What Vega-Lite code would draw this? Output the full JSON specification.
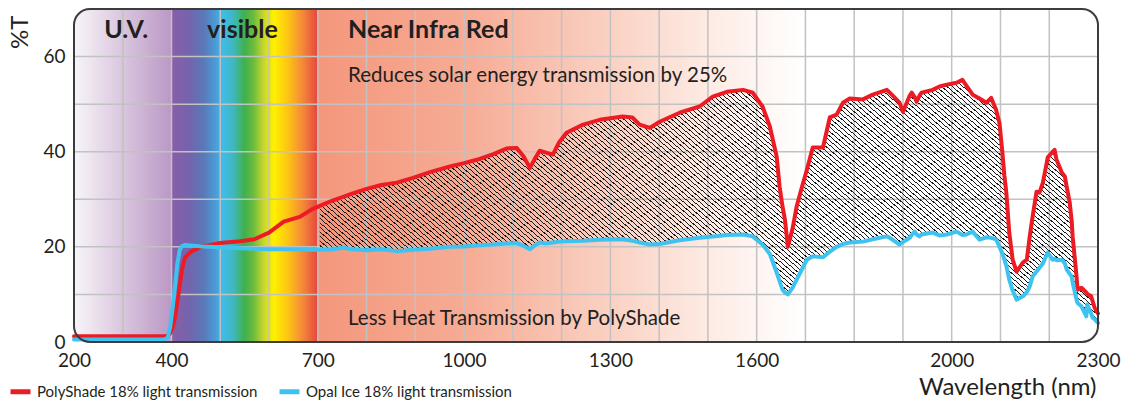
{
  "$schema": "https://vega.github.io/schema/vega-lite/v6.json",
  "width": 1024,
  "height": 333,
  "autosize": {"type": "none"},
  "padding": {"left": 74, "top": 9, "right": 37, "bottom": 60},
  "background": "white",
  "config": {"view": {"stroke": null}, "font": "Lato"},
  "datasets": {
    "spec": [
      {"wl": 200, "p": 1.2, "o": 0.5},
      {"wl": 300, "p": 1.2, "o": 0.5},
      {"wl": 385, "p": 1.2, "o": 0.5},
      {"wl": 392, "p": 1.3, "o": 0.9},
      {"wl": 397, "p": 1.8, "o": 3},
      {"wl": 402, "p": 3, "o": 7},
      {"wl": 407, "p": 5, "o": 11.5},
      {"wl": 412, "p": 8.5, "o": 16.5},
      {"wl": 417, "p": 12, "o": 19.4},
      {"wl": 422, "p": 15.5, "o": 20.2},
      {"wl": 428, "p": 17.8, "o": 20.4},
      {"wl": 440, "p": 19, "o": 20.3},
      {"wl": 460, "p": 20, "o": 20.1},
      {"wl": 500, "p": 20.8, "o": 19.9},
      {"wl": 540, "p": 21.2, "o": 19.7},
      {"wl": 570, "p": 21.6, "o": 19.6},
      {"wl": 600, "p": 23, "o": 19.5},
      {"wl": 630, "p": 25.3, "o": 19.5},
      {"wl": 663, "p": 26.3, "o": 19.5},
      {"wl": 690, "p": 28, "o": 19.4},
      {"wl": 704, "p": 28.6, "o": 19.4},
      {"wl": 730, "p": 29.7, "o": 19.5},
      {"wl": 752, "p": 30.5, "o": 19.8},
      {"wl": 770, "p": 31.2, "o": 19.5},
      {"wl": 800, "p": 32.2, "o": 19.3},
      {"wl": 830, "p": 33, "o": 19.5},
      {"wl": 862, "p": 33.5, "o": 19.1},
      {"wl": 895, "p": 34.5, "o": 19.4},
      {"wl": 930, "p": 35.7, "o": 19.6},
      {"wl": 971, "p": 36.9, "o": 20},
      {"wl": 1000, "p": 37.6, "o": 20.1},
      {"wl": 1026, "p": 38.3, "o": 20.3},
      {"wl": 1060, "p": 39.5, "o": 20.5},
      {"wl": 1088, "p": 40.7, "o": 20.7},
      {"wl": 1108, "p": 40.8, "o": 20.8},
      {"wl": 1122, "p": 39, "o": 20.2},
      {"wl": 1135, "p": 36.6, "o": 19.5},
      {"wl": 1145, "p": 38.5, "o": 20.3},
      {"wl": 1155, "p": 40.2, "o": 20.9},
      {"wl": 1168, "p": 39.8, "o": 20.7},
      {"wl": 1182, "p": 39.4, "o": 20.9},
      {"wl": 1195, "p": 42, "o": 21.1},
      {"wl": 1210, "p": 44, "o": 21.2},
      {"wl": 1244, "p": 45.7, "o": 21.3},
      {"wl": 1278, "p": 46.7, "o": 21.5},
      {"wl": 1325, "p": 47.4, "o": 21.6},
      {"wl": 1345, "p": 47.2, "o": 21.3},
      {"wl": 1360, "p": 45.7, "o": 20.9},
      {"wl": 1381, "p": 45, "o": 20.5},
      {"wl": 1401, "p": 46.3, "o": 20.6},
      {"wl": 1442, "p": 48.2, "o": 21.4},
      {"wl": 1483, "p": 49.5, "o": 21.9},
      {"wl": 1510, "p": 51.6, "o": 22.2},
      {"wl": 1539, "p": 52.6, "o": 22.5},
      {"wl": 1572, "p": 53, "o": 22.6},
      {"wl": 1592, "p": 52.4, "o": 22.2},
      {"wl": 1612, "p": 49.5, "o": 20.5},
      {"wl": 1627, "p": 45.3, "o": 18.5},
      {"wl": 1641, "p": 39, "o": 14.6},
      {"wl": 1647, "p": 32.7, "o": 12.8},
      {"wl": 1653, "p": 28.5, "o": 11},
      {"wl": 1658, "p": 25.7, "o": 10.4},
      {"wl": 1664, "p": 20, "o": 10},
      {"wl": 1674, "p": 24, "o": 11.5},
      {"wl": 1682, "p": 28.5, "o": 13.1},
      {"wl": 1694, "p": 33, "o": 15.5},
      {"wl": 1703, "p": 36.2, "o": 17.3},
      {"wl": 1715, "p": 40.9, "o": 18},
      {"wl": 1736, "p": 40.9, "o": 17.8},
      {"wl": 1750, "p": 47.2, "o": 19},
      {"wl": 1764, "p": 47.8, "o": 20},
      {"wl": 1777, "p": 50.3, "o": 20.6},
      {"wl": 1791, "p": 51.2, "o": 20.9},
      {"wl": 1818, "p": 51, "o": 21.1},
      {"wl": 1838, "p": 52, "o": 21.6},
      {"wl": 1867, "p": 53, "o": 22.2},
      {"wl": 1873, "p": 52.4, "o": 21.9},
      {"wl": 1893, "p": 50.3, "o": 20.5},
      {"wl": 1900, "p": 48.4, "o": 21},
      {"wl": 1914, "p": 51.8, "o": 21.9},
      {"wl": 1918, "p": 52.4, "o": 22.5},
      {"wl": 1924, "p": 51.5, "o": 23.2},
      {"wl": 1928, "p": 50.5, "o": 22.6},
      {"wl": 1934, "p": 51.8, "o": 22.2},
      {"wl": 1938, "p": 52.4, "o": 22.6},
      {"wl": 1961, "p": 53, "o": 23},
      {"wl": 1975, "p": 53.7, "o": 22.4},
      {"wl": 1990, "p": 54.1, "o": 22.6},
      {"wl": 2010, "p": 54.5, "o": 23.2},
      {"wl": 2022, "p": 55.1, "o": 22.5},
      {"wl": 2030, "p": 53.9, "o": 22.6},
      {"wl": 2043, "p": 52, "o": 23.2},
      {"wl": 2057, "p": 51.2, "o": 21.5},
      {"wl": 2071, "p": 50.3, "o": 22},
      {"wl": 2081, "p": 51.3, "o": 21.9},
      {"wl": 2091, "p": 48.8, "o": 21.6},
      {"wl": 2098, "p": 46, "o": 20},
      {"wl": 2104, "p": 39.8, "o": 18.6},
      {"wl": 2108, "p": 35, "o": 17.3},
      {"wl": 2112, "p": 31.4, "o": 16},
      {"wl": 2118, "p": 23, "o": 13.1},
      {"wl": 2125, "p": 17.3, "o": 10.8},
      {"wl": 2133, "p": 14.8, "o": 8.9},
      {"wl": 2146, "p": 16.7, "o": 9.6},
      {"wl": 2154, "p": 17.3, "o": 10.5},
      {"wl": 2160, "p": 22.2, "o": 11.7},
      {"wl": 2166, "p": 26.4, "o": 13.8},
      {"wl": 2174, "p": 31.6, "o": 14.8},
      {"wl": 2180, "p": 31.4, "o": 15.6},
      {"wl": 2187, "p": 33.5, "o": 16.5},
      {"wl": 2197, "p": 38.8, "o": 18.8},
      {"wl": 2207, "p": 40, "o": 17.3},
      {"wl": 2211, "p": 40.4, "o": 17.5},
      {"wl": 2215, "p": 38.3, "o": 17.2},
      {"wl": 2226, "p": 35.6, "o": 17.3},
      {"wl": 2232, "p": 34.8, "o": 16.5},
      {"wl": 2236, "p": 32.5, "o": 15.2},
      {"wl": 2242, "p": 29.3, "o": 14.3},
      {"wl": 2246, "p": 25.5, "o": 13.8},
      {"wl": 2248, "p": 22.2, "o": 12.5},
      {"wl": 2256, "p": 13.8, "o": 8.9},
      {"wl": 2258, "p": 11, "o": 8.2},
      {"wl": 2266, "p": 11.4, "o": 7.5},
      {"wl": 2276, "p": 10.4, "o": 5.4},
      {"wl": 2278, "p": 10.1, "o": 7.9},
      {"wl": 2286, "p": 9.6, "o": 6},
      {"wl": 2289, "p": 8.6, "o": 5.1},
      {"wl": 2293, "p": 7.2, "o": 4.8},
      {"wl": 2300, "p": 6, "o": 4}
    ],
    "bands": [
      {"band": "uv", "start": 200, "end": 400},
      {"band": "vis", "start": 400, "end": 700},
      {"band": "nir", "start": 700, "end": 1700},
      {"band": "frame", "start": 200, "end": 2300}
    ],
    "gridx": [
      {"v": 300}, {"v": 400}, {"v": 500}, {"v": 600}, {"v": 700}, {"v": 800}, {"v": 900}, {"v": 1000},
      {"v": 1100}, {"v": 1200}, {"v": 1300}, {"v": 1400}, {"v": 1500}, {"v": 1600}, {"v": 1700},
      {"v": 1800}, {"v": 1900}, {"v": 2000}, {"v": 2100}, {"v": 2200}
    ],
    "gridy": [{"v": 10}, {"v": 20}, {"v": 30}, {"v": 40}, {"v": 50}, {"v": 60}],
    "labels": [
      {"kind": "head", "text": "U.V.", "wl": 262, "t": 63.9},
      {"kind": "head", "text": "visible", "wl": 473, "t": 63.9},
      {"kind": "head", "text": "Near Infra Red", "wl": 762, "t": 63.9},
      {"kind": "note", "text": "Reduces solar energy transmission by 25%", "wl": 762, "t": 54.6},
      {"kind": "note", "text": "Less Heat Transmission by PolyShade", "wl": 762, "t": 3.6}
    ]
  },
  "layer": [
    {
      "data": {"name": "bands"},
      "transform": [{"filter": "datum.band == 'uv'"}],
      "mark": {
        "type": "rect",
        "cornerRadiusTopLeft": 16,
        "cornerRadiusBottomLeft": 16,
        "fill": {"gradient": "linear", "x1": 0, "y1": 0, "x2": 1, "y2": 0,
          "stops": [{"offset": 0, "color": "#f8f5f9"}, {"offset": 0.5, "color": "#d9c6de"}, {"offset": 1, "color": "#bb98c5"}]}
      },
      "encoding": {
        "x": {"field": "start", "type": "quantitative", "scale": {"domain": [200, 2300], "nice": false, "zero": false}},
        "x2": {"field": "end"}
      }
    },
    {
      "data": {"name": "bands"},
      "transform": [{"filter": "datum.band == 'vis'"}],
      "mark": {
        "type": "rect",
        "fill": {"gradient": "linear", "x1": 0, "y1": 0, "x2": 1, "y2": 0,
          "stops": [
            {"offset": 0, "color": "#8a5ea7"},
            {"offset": 0.12, "color": "#7464ad"},
            {"offset": 0.22, "color": "#5a78b8"},
            {"offset": 0.3, "color": "#4a9cd6"},
            {"offset": 0.35, "color": "#3fbcea"},
            {"offset": 0.42, "color": "#3fb8c0"},
            {"offset": 0.5, "color": "#40b04e"},
            {"offset": 0.56, "color": "#6cbb3e"},
            {"offset": 0.63, "color": "#c8d62c"},
            {"offset": 0.7, "color": "#fff100"},
            {"offset": 0.8, "color": "#fcc214"},
            {"offset": 0.9, "color": "#f3873a"},
            {"offset": 1, "color": "#e5453e"}
          ]}
      },
      "encoding": {
        "x": {"field": "start", "type": "quantitative", "scale": {"domain": [200, 2300], "nice": false, "zero": false}},
        "x2": {"field": "end"}
      }
    },
    {
      "data": {"name": "bands"},
      "transform": [{"filter": "datum.band == 'nir'"}],
      "mark": {
        "type": "rect",
        "fill": {"gradient": "linear", "x1": 0, "y1": 0, "x2": 1, "y2": 0,
          "stops": [
            {"offset": 0, "color": "#f4977c"},
            {"offset": 0.3, "color": "#f6ab94"},
            {"offset": 0.6, "color": "#fad1c3"},
            {"offset": 0.8, "color": "#fdebe4"},
            {"offset": 1, "color": "#ffffff"}
          ]}
      },
      "encoding": {
        "x": {"field": "start", "type": "quantitative", "scale": {"domain": [200, 2300], "nice": false, "zero": false}},
        "x2": {"field": "end"}
      }
    },
    {
      "data": {"name": "gridx"},
      "mark": {"type": "rule", "color": "#c2c2c2", "strokeWidth": 1.5},
      "encoding": {
        "x": {"field": "v", "type": "quantitative", "scale": {"domain": [200, 2300], "nice": false, "zero": false}}
      }
    },
    {
      "data": {"name": "gridy"},
      "mark": {"type": "rule", "color": "#c2c2c2", "strokeWidth": 1.5},
      "encoding": {
        "y": {"field": "v", "type": "quantitative", "scale": {"domain": [0, 70], "nice": false, "zero": false}}
      }
    },
    {
      "data": {"name": "spec"},
      "transform": [{"filter": "datum.wl >= 700"}],
      "mark": {
        "type": "area",
        "fill": {"gradient": "linear", "x1": 0, "y1": 1, "x2": 1.2047, "y2": 0.5585, "stops": [
{"offset":0,"color":"#1a1a1a"},{"offset":0.0012,"color":"#1a1a1a"},{"offset":0.0012,"color":"#0000"},
{"offset":0.005,"color":"#0000"},{"offset":0.005,"color":"#1a1a1a"},{"offset":0.0062,"color":"#1a1a1a"},{"offset":0.0062,"color":"#0000"},
{"offset":0.01,"color":"#0000"},{"offset":0.01,"color":"#1a1a1a"},{"offset":0.0112,"color":"#1a1a1a"},{"offset":0.0112,"color":"#0000"},
{"offset":0.015,"color":"#0000"},{"offset":0.015,"color":"#1a1a1a"},{"offset":0.0162,"color":"#1a1a1a"},{"offset":0.0162,"color":"#0000"},
{"offset":0.02,"color":"#0000"},{"offset":0.02,"color":"#1a1a1a"},{"offset":0.0212,"color":"#1a1a1a"},{"offset":0.0212,"color":"#0000"},
{"offset":0.025,"color":"#0000"},{"offset":0.025,"color":"#1a1a1a"},{"offset":0.0262,"color":"#1a1a1a"},{"offset":0.0262,"color":"#0000"},
{"offset":0.03,"color":"#0000"},{"offset":0.03,"color":"#1a1a1a"},{"offset":0.0312,"color":"#1a1a1a"},{"offset":0.0312,"color":"#0000"},
{"offset":0.035,"color":"#0000"},{"offset":0.035,"color":"#1a1a1a"},{"offset":0.0362,"color":"#1a1a1a"},{"offset":0.0362,"color":"#0000"},
{"offset":0.04,"color":"#0000"},{"offset":0.04,"color":"#1a1a1a"},{"offset":0.0412,"color":"#1a1a1a"},{"offset":0.0412,"color":"#0000"},
{"offset":0.045,"color":"#0000"},{"offset":0.045,"color":"#1a1a1a"},{"offset":0.0462,"color":"#1a1a1a"},{"offset":0.0462,"color":"#0000"},
{"offset":0.05,"color":"#0000"},{"offset":0.05,"color":"#1a1a1a"},{"offset":0.0512,"color":"#1a1a1a"},{"offset":0.0512,"color":"#0000"},
{"offset":0.055,"color":"#0000"},{"offset":0.055,"color":"#1a1a1a"},{"offset":0.0562,"color":"#1a1a1a"},{"offset":0.0562,"color":"#0000"},
{"offset":0.06,"color":"#0000"},{"offset":0.06,"color":"#1a1a1a"},{"offset":0.0612,"color":"#1a1a1a"},{"offset":0.0612,"color":"#0000"},
{"offset":0.065,"color":"#0000"},{"offset":0.065,"color":"#1a1a1a"},{"offset":0.0662,"color":"#1a1a1a"},{"offset":0.0662,"color":"#0000"},
{"offset":0.07,"color":"#0000"},{"offset":0.07,"color":"#1a1a1a"},{"offset":0.0712,"color":"#1a1a1a"},{"offset":0.0712,"color":"#0000"},
{"offset":0.075,"color":"#0000"},{"offset":0.075,"color":"#1a1a1a"},{"offset":0.0762,"color":"#1a1a1a"},{"offset":0.0762,"color":"#0000"},
{"offset":0.08,"color":"#0000"},{"offset":0.08,"color":"#1a1a1a"},{"offset":0.0812,"color":"#1a1a1a"},{"offset":0.0812,"color":"#0000"},
{"offset":0.085,"color":"#0000"},{"offset":0.085,"color":"#1a1a1a"},{"offset":0.0862,"color":"#1a1a1a"},{"offset":0.0862,"color":"#0000"},
{"offset":0.09,"color":"#0000"},{"offset":0.09,"color":"#1a1a1a"},{"offset":0.0912,"color":"#1a1a1a"},{"offset":0.0912,"color":"#0000"},
{"offset":0.095,"color":"#0000"},{"offset":0.095,"color":"#1a1a1a"},{"offset":0.0962,"color":"#1a1a1a"},{"offset":0.0962,"color":"#0000"},
{"offset":0.1,"color":"#0000"},{"offset":0.1,"color":"#1a1a1a"},{"offset":0.1012,"color":"#1a1a1a"},{"offset":0.1012,"color":"#0000"},
{"offset":0.105,"color":"#0000"},{"offset":0.105,"color":"#1a1a1a"},{"offset":0.1062,"color":"#1a1a1a"},{"offset":0.1062,"color":"#0000"},
{"offset":0.11,"color":"#0000"},{"offset":0.11,"color":"#1a1a1a"},{"offset":0.1112,"color":"#1a1a1a"},{"offset":0.1112,"color":"#0000"},
{"offset":0.115,"color":"#0000"},{"offset":0.115,"color":"#1a1a1a"},{"offset":0.1162,"color":"#1a1a1a"},{"offset":0.1162,"color":"#0000"},
{"offset":0.12,"color":"#0000"},{"offset":0.12,"color":"#1a1a1a"},{"offset":0.1212,"color":"#1a1a1a"},{"offset":0.1212,"color":"#0000"},
{"offset":0.125,"color":"#0000"},{"offset":0.125,"color":"#1a1a1a"},{"offset":0.1262,"color":"#1a1a1a"},{"offset":0.1262,"color":"#0000"},
{"offset":0.13,"color":"#0000"},{"offset":0.13,"color":"#1a1a1a"},{"offset":0.1312,"color":"#1a1a1a"},{"offset":0.1312,"color":"#0000"},
{"offset":0.135,"color":"#0000"},{"offset":0.135,"color":"#1a1a1a"},{"offset":0.1362,"color":"#1a1a1a"},{"offset":0.1362,"color":"#0000"},
{"offset":0.14,"color":"#0000"},{"offset":0.14,"color":"#1a1a1a"},{"offset":0.1412,"color":"#1a1a1a"},{"offset":0.1412,"color":"#0000"},
{"offset":0.145,"color":"#0000"},{"offset":0.145,"color":"#1a1a1a"},{"offset":0.1462,"color":"#1a1a1a"},{"offset":0.1462,"color":"#0000"},
{"offset":0.15,"color":"#0000"},{"offset":0.15,"color":"#1a1a1a"},{"offset":0.1512,"color":"#1a1a1a"},{"offset":0.1512,"color":"#0000"},
{"offset":0.155,"color":"#0000"},{"offset":0.155,"color":"#1a1a1a"},{"offset":0.1562,"color":"#1a1a1a"},{"offset":0.1562,"color":"#0000"},
{"offset":0.16,"color":"#0000"},{"offset":0.16,"color":"#1a1a1a"},{"offset":0.1612,"color":"#1a1a1a"},{"offset":0.1612,"color":"#0000"},
{"offset":0.165,"color":"#0000"},{"offset":0.165,"color":"#1a1a1a"},{"offset":0.1662,"color":"#1a1a1a"},{"offset":0.1662,"color":"#0000"},
{"offset":0.17,"color":"#0000"},{"offset":0.17,"color":"#1a1a1a"},{"offset":0.1712,"color":"#1a1a1a"},{"offset":0.1712,"color":"#0000"},
{"offset":0.175,"color":"#0000"},{"offset":0.175,"color":"#1a1a1a"},{"offset":0.1762,"color":"#1a1a1a"},{"offset":0.1762,"color":"#0000"},
{"offset":0.18,"color":"#0000"},{"offset":0.18,"color":"#1a1a1a"},{"offset":0.1812,"color":"#1a1a1a"},{"offset":0.1812,"color":"#0000"},
{"offset":0.185,"color":"#0000"},{"offset":0.185,"color":"#1a1a1a"},{"offset":0.1862,"color":"#1a1a1a"},{"offset":0.1862,"color":"#0000"},
{"offset":0.19,"color":"#0000"},{"offset":0.19,"color":"#1a1a1a"},{"offset":0.1912,"color":"#1a1a1a"},{"offset":0.1912,"color":"#0000"},
{"offset":0.195,"color":"#0000"},{"offset":0.195,"color":"#1a1a1a"},{"offset":0.1962,"color":"#1a1a1a"},{"offset":0.1962,"color":"#0000"},
{"offset":0.2,"color":"#0000"},{"offset":0.2,"color":"#1a1a1a"},{"offset":0.2012,"color":"#1a1a1a"},{"offset":0.2012,"color":"#0000"},
{"offset":0.205,"color":"#0000"},{"offset":0.205,"color":"#1a1a1a"},{"offset":0.2062,"color":"#1a1a1a"},{"offset":0.2062,"color":"#0000"},
{"offset":0.21,"color":"#0000"},{"offset":0.21,"color":"#1a1a1a"},{"offset":0.2112,"color":"#1a1a1a"},{"offset":0.2112,"color":"#0000"},
{"offset":0.215,"color":"#0000"},{"offset":0.215,"color":"#1a1a1a"},{"offset":0.2162,"color":"#1a1a1a"},{"offset":0.2162,"color":"#0000"},
{"offset":0.22,"color":"#0000"},{"offset":0.22,"color":"#1a1a1a"},{"offset":0.2212,"color":"#1a1a1a"},{"offset":0.2212,"color":"#0000"},
{"offset":0.225,"color":"#0000"},{"offset":0.225,"color":"#1a1a1a"},{"offset":0.2262,"color":"#1a1a1a"},{"offset":0.2262,"color":"#0000"},
{"offset":0.23,"color":"#0000"},{"offset":0.23,"color":"#1a1a1a"},{"offset":0.2312,"color":"#1a1a1a"},{"offset":0.2312,"color":"#0000"},
{"offset":0.235,"color":"#0000"},{"offset":0.235,"color":"#1a1a1a"},{"offset":0.2362,"color":"#1a1a1a"},{"offset":0.2362,"color":"#0000"},
{"offset":0.24,"color":"#0000"},{"offset":0.24,"color":"#1a1a1a"},{"offset":0.2412,"color":"#1a1a1a"},{"offset":0.2412,"color":"#0000"},
{"offset":0.245,"color":"#0000"},{"offset":0.245,"color":"#1a1a1a"},{"offset":0.2462,"color":"#1a1a1a"},{"offset":0.2462,"color":"#0000"},
{"offset":0.25,"color":"#0000"},{"offset":0.25,"color":"#1a1a1a"},{"offset":0.2512,"color":"#1a1a1a"},{"offset":0.2512,"color":"#0000"},
{"offset":0.255,"color":"#0000"},{"offset":0.255,"color":"#1a1a1a"},{"offset":0.2562,"color":"#1a1a1a"},{"offset":0.2562,"color":"#0000"},
{"offset":0.26,"color":"#0000"},{"offset":0.26,"color":"#1a1a1a"},{"offset":0.2612,"color":"#1a1a1a"},{"offset":0.2612,"color":"#0000"},
{"offset":0.265,"color":"#0000"},{"offset":0.265,"color":"#1a1a1a"},{"offset":0.2662,"color":"#1a1a1a"},{"offset":0.2662,"color":"#0000"},
{"offset":0.27,"color":"#0000"},{"offset":0.27,"color":"#1a1a1a"},{"offset":0.2712,"color":"#1a1a1a"},{"offset":0.2712,"color":"#0000"},
{"offset":0.275,"color":"#0000"},{"offset":0.275,"color":"#1a1a1a"},{"offset":0.2762,"color":"#1a1a1a"},{"offset":0.2762,"color":"#0000"},
{"offset":0.28,"color":"#0000"},{"offset":0.28,"color":"#1a1a1a"},{"offset":0.2812,"color":"#1a1a1a"},{"offset":0.2812,"color":"#0000"},
{"offset":0.285,"color":"#0000"},{"offset":0.285,"color":"#1a1a1a"},{"offset":0.2862,"color":"#1a1a1a"},{"offset":0.2862,"color":"#0000"},
{"offset":0.29,"color":"#0000"},{"offset":0.29,"color":"#1a1a1a"},{"offset":0.2912,"color":"#1a1a1a"},{"offset":0.2912,"color":"#0000"},
{"offset":0.295,"color":"#0000"},{"offset":0.295,"color":"#1a1a1a"},{"offset":0.2962,"color":"#1a1a1a"},{"offset":0.2962,"color":"#0000"},
{"offset":0.3,"color":"#0000"},{"offset":0.3,"color":"#1a1a1a"},{"offset":0.3012,"color":"#1a1a1a"},{"offset":0.3012,"color":"#0000"},
{"offset":0.305,"color":"#0000"},{"offset":0.305,"color":"#1a1a1a"},{"offset":0.3062,"color":"#1a1a1a"},{"offset":0.3062,"color":"#0000"},
{"offset":0.31,"color":"#0000"},{"offset":0.31,"color":"#1a1a1a"},{"offset":0.3112,"color":"#1a1a1a"},{"offset":0.3112,"color":"#0000"},
{"offset":0.315,"color":"#0000"},{"offset":0.315,"color":"#1a1a1a"},{"offset":0.3162,"color":"#1a1a1a"},{"offset":0.3162,"color":"#0000"},
{"offset":0.32,"color":"#0000"},{"offset":0.32,"color":"#1a1a1a"},{"offset":0.3212,"color":"#1a1a1a"},{"offset":0.3212,"color":"#0000"},
{"offset":0.325,"color":"#0000"},{"offset":0.325,"color":"#1a1a1a"},{"offset":0.3262,"color":"#1a1a1a"},{"offset":0.3262,"color":"#0000"},
{"offset":0.33,"color":"#0000"},{"offset":0.33,"color":"#1a1a1a"},{"offset":0.3312,"color":"#1a1a1a"},{"offset":0.3312,"color":"#0000"},
{"offset":0.335,"color":"#0000"},{"offset":0.335,"color":"#1a1a1a"},{"offset":0.3362,"color":"#1a1a1a"},{"offset":0.3362,"color":"#0000"},
{"offset":0.34,"color":"#0000"},{"offset":0.34,"color":"#1a1a1a"},{"offset":0.3412,"color":"#1a1a1a"},{"offset":0.3412,"color":"#0000"},
{"offset":0.345,"color":"#0000"},{"offset":0.345,"color":"#1a1a1a"},{"offset":0.3462,"color":"#1a1a1a"},{"offset":0.3462,"color":"#0000"},
{"offset":0.35,"color":"#0000"},{"offset":0.35,"color":"#1a1a1a"},{"offset":0.3512,"color":"#1a1a1a"},{"offset":0.3512,"color":"#0000"},
{"offset":0.355,"color":"#0000"},{"offset":0.355,"color":"#1a1a1a"},{"offset":0.3562,"color":"#1a1a1a"},{"offset":0.3562,"color":"#0000"},
{"offset":0.36,"color":"#0000"},{"offset":0.36,"color":"#1a1a1a"},{"offset":0.3612,"color":"#1a1a1a"},{"offset":0.3612,"color":"#0000"},
{"offset":0.365,"color":"#0000"},{"offset":0.365,"color":"#1a1a1a"},{"offset":0.3662,"color":"#1a1a1a"},{"offset":0.3662,"color":"#0000"},
{"offset":0.37,"color":"#0000"},{"offset":0.37,"color":"#1a1a1a"},{"offset":0.3712,"color":"#1a1a1a"},{"offset":0.3712,"color":"#0000"},
{"offset":0.375,"color":"#0000"},{"offset":0.375,"color":"#1a1a1a"},{"offset":0.3762,"color":"#1a1a1a"},{"offset":0.3762,"color":"#0000"},
{"offset":0.38,"color":"#0000"},{"offset":0.38,"color":"#1a1a1a"},{"offset":0.3812,"color":"#1a1a1a"},{"offset":0.3812,"color":"#0000"},
{"offset":0.385,"color":"#0000"},{"offset":0.385,"color":"#1a1a1a"},{"offset":0.3862,"color":"#1a1a1a"},{"offset":0.3862,"color":"#0000"},
{"offset":0.39,"color":"#0000"},{"offset":0.39,"color":"#1a1a1a"},{"offset":0.3912,"color":"#1a1a1a"},{"offset":0.3912,"color":"#0000"},
{"offset":0.395,"color":"#0000"},{"offset":0.395,"color":"#1a1a1a"},{"offset":0.3962,"color":"#1a1a1a"},{"offset":0.3962,"color":"#0000"},
{"offset":0.4,"color":"#0000"},{"offset":0.4,"color":"#1a1a1a"},{"offset":0.4012,"color":"#1a1a1a"},{"offset":0.4012,"color":"#0000"},
{"offset":0.405,"color":"#0000"},{"offset":0.405,"color":"#1a1a1a"},{"offset":0.4062,"color":"#1a1a1a"},{"offset":0.4062,"color":"#0000"},
{"offset":0.41,"color":"#0000"},{"offset":0.41,"color":"#1a1a1a"},{"offset":0.4112,"color":"#1a1a1a"},{"offset":0.4112,"color":"#0000"},
{"offset":0.415,"color":"#0000"},{"offset":0.415,"color":"#1a1a1a"},{"offset":0.4162,"color":"#1a1a1a"},{"offset":0.4162,"color":"#0000"},
{"offset":0.42,"color":"#0000"},{"offset":0.42,"color":"#1a1a1a"},{"offset":0.4212,"color":"#1a1a1a"},{"offset":0.4212,"color":"#0000"},
{"offset":0.425,"color":"#0000"},{"offset":0.425,"color":"#1a1a1a"},{"offset":0.4262,"color":"#1a1a1a"},{"offset":0.4262,"color":"#0000"},
{"offset":0.43,"color":"#0000"},{"offset":0.43,"color":"#1a1a1a"},{"offset":0.4312,"color":"#1a1a1a"},{"offset":0.4312,"color":"#0000"},
{"offset":0.435,"color":"#0000"},{"offset":0.435,"color":"#1a1a1a"},{"offset":0.4362,"color":"#1a1a1a"},{"offset":0.4362,"color":"#0000"},
{"offset":0.44,"color":"#0000"},{"offset":0.44,"color":"#1a1a1a"},{"offset":0.4412,"color":"#1a1a1a"},{"offset":0.4412,"color":"#0000"},
{"offset":0.445,"color":"#0000"},{"offset":0.445,"color":"#1a1a1a"},{"offset":0.4462,"color":"#1a1a1a"},{"offset":0.4462,"color":"#0000"},
{"offset":0.45,"color":"#0000"},{"offset":0.45,"color":"#1a1a1a"},{"offset":0.4512,"color":"#1a1a1a"},{"offset":0.4512,"color":"#0000"},
{"offset":0.455,"color":"#0000"},{"offset":0.455,"color":"#1a1a1a"},{"offset":0.4562,"color":"#1a1a1a"},{"offset":0.4562,"color":"#0000"},
{"offset":0.46,"color":"#0000"},{"offset":0.46,"color":"#1a1a1a"},{"offset":0.4612,"color":"#1a1a1a"},{"offset":0.4612,"color":"#0000"},
{"offset":0.465,"color":"#0000"},{"offset":0.465,"color":"#1a1a1a"},{"offset":0.4662,"color":"#1a1a1a"},{"offset":0.4662,"color":"#0000"},
{"offset":0.47,"color":"#0000"},{"offset":0.47,"color":"#1a1a1a"},{"offset":0.4712,"color":"#1a1a1a"},{"offset":0.4712,"color":"#0000"},
{"offset":0.475,"color":"#0000"},{"offset":0.475,"color":"#1a1a1a"},{"offset":0.4762,"color":"#1a1a1a"},{"offset":0.4762,"color":"#0000"},
{"offset":0.48,"color":"#0000"},{"offset":0.48,"color":"#1a1a1a"},{"offset":0.4812,"color":"#1a1a1a"},{"offset":0.4812,"color":"#0000"},
{"offset":0.485,"color":"#0000"},{"offset":0.485,"color":"#1a1a1a"},{"offset":0.4862,"color":"#1a1a1a"},{"offset":0.4862,"color":"#0000"},
{"offset":0.49,"color":"#0000"},{"offset":0.49,"color":"#1a1a1a"},{"offset":0.4912,"color":"#1a1a1a"},{"offset":0.4912,"color":"#0000"},
{"offset":0.495,"color":"#0000"},{"offset":0.495,"color":"#1a1a1a"},{"offset":0.4962,"color":"#1a1a1a"},{"offset":0.4962,"color":"#0000"},
{"offset":0.5,"color":"#0000"},{"offset":0.5,"color":"#1a1a1a"},{"offset":0.5012,"color":"#1a1a1a"},{"offset":0.5012,"color":"#0000"},
{"offset":0.505,"color":"#0000"},{"offset":0.505,"color":"#1a1a1a"},{"offset":0.5062,"color":"#1a1a1a"},{"offset":0.5062,"color":"#0000"},
{"offset":0.51,"color":"#0000"},{"offset":0.51,"color":"#1a1a1a"},{"offset":0.5112,"color":"#1a1a1a"},{"offset":0.5112,"color":"#0000"},
{"offset":0.515,"color":"#0000"},{"offset":0.515,"color":"#1a1a1a"},{"offset":0.5162,"color":"#1a1a1a"},{"offset":0.5162,"color":"#0000"},
{"offset":0.52,"color":"#0000"},{"offset":0.52,"color":"#1a1a1a"},{"offset":0.5212,"color":"#1a1a1a"},{"offset":0.5212,"color":"#0000"},
{"offset":0.525,"color":"#0000"},{"offset":0.525,"color":"#1a1a1a"},{"offset":0.5262,"color":"#1a1a1a"},{"offset":0.5262,"color":"#0000"},
{"offset":0.53,"color":"#0000"},{"offset":0.53,"color":"#1a1a1a"},{"offset":0.5312,"color":"#1a1a1a"},{"offset":0.5312,"color":"#0000"},
{"offset":0.535,"color":"#0000"},{"offset":0.535,"color":"#1a1a1a"},{"offset":0.5362,"color":"#1a1a1a"},{"offset":0.5362,"color":"#0000"},
{"offset":0.54,"color":"#0000"},{"offset":0.54,"color":"#1a1a1a"},{"offset":0.5412,"color":"#1a1a1a"},{"offset":0.5412,"color":"#0000"},
{"offset":0.545,"color":"#0000"},{"offset":0.545,"color":"#1a1a1a"},{"offset":0.5462,"color":"#1a1a1a"},{"offset":0.5462,"color":"#0000"},
{"offset":0.55,"color":"#0000"},{"offset":0.55,"color":"#1a1a1a"},{"offset":0.5512,"color":"#1a1a1a"},{"offset":0.5512,"color":"#0000"},
{"offset":0.555,"color":"#0000"},{"offset":0.555,"color":"#1a1a1a"},{"offset":0.5562,"color":"#1a1a1a"},{"offset":0.5562,"color":"#0000"},
{"offset":0.56,"color":"#0000"},{"offset":0.56,"color":"#1a1a1a"},{"offset":0.5612,"color":"#1a1a1a"},{"offset":0.5612,"color":"#0000"},
{"offset":0.565,"color":"#0000"},{"offset":0.565,"color":"#1a1a1a"},{"offset":0.5662,"color":"#1a1a1a"},{"offset":0.5662,"color":"#0000"},
{"offset":0.57,"color":"#0000"},{"offset":0.57,"color":"#1a1a1a"},{"offset":0.5712,"color":"#1a1a1a"},{"offset":0.5712,"color":"#0000"},
{"offset":0.575,"color":"#0000"},{"offset":0.575,"color":"#1a1a1a"},{"offset":0.5762,"color":"#1a1a1a"},{"offset":0.5762,"color":"#0000"},
{"offset":0.58,"color":"#0000"},{"offset":0.58,"color":"#1a1a1a"},{"offset":0.5812,"color":"#1a1a1a"},{"offset":0.5812,"color":"#0000"},
{"offset":0.585,"color":"#0000"},{"offset":0.585,"color":"#1a1a1a"},{"offset":0.5862,"color":"#1a1a1a"},{"offset":0.5862,"color":"#0000"},
{"offset":0.59,"color":"#0000"},{"offset":0.59,"color":"#1a1a1a"},{"offset":0.5912,"color":"#1a1a1a"},{"offset":0.5912,"color":"#0000"},
{"offset":0.595,"color":"#0000"},{"offset":0.595,"color":"#1a1a1a"},{"offset":0.5962,"color":"#1a1a1a"},{"offset":0.5962,"color":"#0000"},
{"offset":0.6,"color":"#0000"},{"offset":0.6,"color":"#1a1a1a"},{"offset":0.6012,"color":"#1a1a1a"},{"offset":0.6012,"color":"#0000"},
{"offset":0.605,"color":"#0000"},{"offset":0.605,"color":"#1a1a1a"},{"offset":0.6062,"color":"#1a1a1a"},{"offset":0.6062,"color":"#0000"},
{"offset":0.61,"color":"#0000"},{"offset":0.61,"color":"#1a1a1a"},{"offset":0.6112,"color":"#1a1a1a"},{"offset":0.6112,"color":"#0000"},
{"offset":0.615,"color":"#0000"},{"offset":0.615,"color":"#1a1a1a"},{"offset":0.6162,"color":"#1a1a1a"},{"offset":0.6162,"color":"#0000"},
{"offset":0.62,"color":"#0000"},{"offset":0.62,"color":"#1a1a1a"},{"offset":0.6212,"color":"#1a1a1a"},{"offset":0.6212,"color":"#0000"},
{"offset":0.625,"color":"#0000"},{"offset":0.625,"color":"#1a1a1a"},{"offset":0.6262,"color":"#1a1a1a"},{"offset":0.6262,"color":"#0000"},
{"offset":0.63,"color":"#0000"},{"offset":0.63,"color":"#1a1a1a"},{"offset":0.6312,"color":"#1a1a1a"},{"offset":0.6312,"color":"#0000"},
{"offset":0.635,"color":"#0000"},{"offset":0.635,"color":"#1a1a1a"},{"offset":0.6362,"color":"#1a1a1a"},{"offset":0.6362,"color":"#0000"},
{"offset":0.64,"color":"#0000"},{"offset":0.64,"color":"#1a1a1a"},{"offset":0.6412,"color":"#1a1a1a"},{"offset":0.6412,"color":"#0000"},
{"offset":0.645,"color":"#0000"},{"offset":0.645,"color":"#1a1a1a"},{"offset":0.6462,"color":"#1a1a1a"},{"offset":0.6462,"color":"#0000"},
{"offset":0.65,"color":"#0000"},{"offset":0.65,"color":"#1a1a1a"},{"offset":0.6512,"color":"#1a1a1a"},{"offset":0.6512,"color":"#0000"},
{"offset":0.655,"color":"#0000"},{"offset":0.655,"color":"#1a1a1a"},{"offset":0.6562,"color":"#1a1a1a"},{"offset":0.6562,"color":"#0000"},
{"offset":0.66,"color":"#0000"},{"offset":0.66,"color":"#1a1a1a"},{"offset":0.6612,"color":"#1a1a1a"},{"offset":0.6612,"color":"#0000"},
{"offset":0.665,"color":"#0000"},{"offset":0.665,"color":"#1a1a1a"},{"offset":0.6662,"color":"#1a1a1a"},{"offset":0.6662,"color":"#0000"},
{"offset":0.67,"color":"#0000"},{"offset":0.67,"color":"#1a1a1a"},{"offset":0.6712,"color":"#1a1a1a"},{"offset":0.6712,"color":"#0000"},
{"offset":0.675,"color":"#0000"},{"offset":0.675,"color":"#1a1a1a"},{"offset":0.6762,"color":"#1a1a1a"},{"offset":0.6762,"color":"#0000"},
{"offset":0.68,"color":"#0000"},{"offset":0.68,"color":"#1a1a1a"},{"offset":0.6812,"color":"#1a1a1a"},{"offset":0.6812,"color":"#0000"},
{"offset":0.685,"color":"#0000"},{"offset":0.685,"color":"#1a1a1a"},{"offset":0.6862,"color":"#1a1a1a"},{"offset":0.6862,"color":"#0000"},
{"offset":0.69,"color":"#0000"},{"offset":0.69,"color":"#1a1a1a"},{"offset":0.6912,"color":"#1a1a1a"},{"offset":0.6912,"color":"#0000"},
{"offset":0.695,"color":"#0000"},{"offset":0.695,"color":"#1a1a1a"},{"offset":0.6962,"color":"#1a1a1a"},{"offset":0.6962,"color":"#0000"},
{"offset":0.7,"color":"#0000"},{"offset":0.7,"color":"#1a1a1a"},{"offset":0.7012,"color":"#1a1a1a"},{"offset":0.7012,"color":"#0000"},
{"offset":0.705,"color":"#0000"},{"offset":0.705,"color":"#1a1a1a"},{"offset":0.7062,"color":"#1a1a1a"},{"offset":0.7062,"color":"#0000"},
{"offset":0.71,"color":"#0000"},{"offset":0.71,"color":"#1a1a1a"},{"offset":0.7112,"color":"#1a1a1a"},{"offset":0.7112,"color":"#0000"},
{"offset":0.715,"color":"#0000"},{"offset":0.715,"color":"#1a1a1a"},{"offset":0.7162,"color":"#1a1a1a"},{"offset":0.7162,"color":"#0000"},
{"offset":0.72,"color":"#0000"},{"offset":0.72,"color":"#1a1a1a"},{"offset":0.7212,"color":"#1a1a1a"},{"offset":0.7212,"color":"#0000"},
{"offset":0.725,"color":"#0000"},{"offset":0.725,"color":"#1a1a1a"},{"offset":0.7262,"color":"#1a1a1a"},{"offset":0.7262,"color":"#0000"},
{"offset":0.73,"color":"#0000"},{"offset":0.73,"color":"#1a1a1a"},{"offset":0.7312,"color":"#1a1a1a"},{"offset":0.7312,"color":"#0000"},
{"offset":0.735,"color":"#0000"},{"offset":0.735,"color":"#1a1a1a"},{"offset":0.7362,"color":"#1a1a1a"},{"offset":0.7362,"color":"#0000"},
{"offset":0.74,"color":"#0000"},{"offset":0.74,"color":"#1a1a1a"},{"offset":0.7412,"color":"#1a1a1a"},{"offset":0.7412,"color":"#0000"},
{"offset":0.745,"color":"#0000"},{"offset":0.745,"color":"#1a1a1a"},{"offset":0.7462,"color":"#1a1a1a"},{"offset":0.7462,"color":"#0000"},
{"offset":0.75,"color":"#0000"},{"offset":0.75,"color":"#1a1a1a"},{"offset":0.7512,"color":"#1a1a1a"},{"offset":0.7512,"color":"#0000"},
{"offset":0.755,"color":"#0000"},{"offset":0.755,"color":"#1a1a1a"},{"offset":0.7562,"color":"#1a1a1a"},{"offset":0.7562,"color":"#0000"},
{"offset":0.76,"color":"#0000"},{"offset":0.76,"color":"#1a1a1a"},{"offset":0.7612,"color":"#1a1a1a"},{"offset":0.7612,"color":"#0000"},
{"offset":0.765,"color":"#0000"},{"offset":0.765,"color":"#1a1a1a"},{"offset":0.7662,"color":"#1a1a1a"},{"offset":0.7662,"color":"#0000"},
{"offset":0.77,"color":"#0000"},{"offset":0.77,"color":"#1a1a1a"},{"offset":0.7712,"color":"#1a1a1a"},{"offset":0.7712,"color":"#0000"},
{"offset":0.775,"color":"#0000"},{"offset":0.775,"color":"#1a1a1a"},{"offset":0.7762,"color":"#1a1a1a"},{"offset":0.7762,"color":"#0000"},
{"offset":0.78,"color":"#0000"},{"offset":0.78,"color":"#1a1a1a"},{"offset":0.7812,"color":"#1a1a1a"},{"offset":0.7812,"color":"#0000"},
{"offset":0.785,"color":"#0000"},{"offset":0.785,"color":"#1a1a1a"},{"offset":0.7862,"color":"#1a1a1a"},{"offset":0.7862,"color":"#0000"},
{"offset":0.79,"color":"#0000"},{"offset":0.79,"color":"#1a1a1a"},{"offset":0.7912,"color":"#1a1a1a"},{"offset":0.7912,"color":"#0000"},
{"offset":0.795,"color":"#0000"},{"offset":0.795,"color":"#1a1a1a"},{"offset":0.7962,"color":"#1a1a1a"},{"offset":0.7962,"color":"#0000"},
{"offset":0.8,"color":"#0000"},{"offset":0.8,"color":"#1a1a1a"},{"offset":0.8012,"color":"#1a1a1a"},{"offset":0.8012,"color":"#0000"},
{"offset":0.805,"color":"#0000"},{"offset":0.805,"color":"#1a1a1a"},{"offset":0.8062,"color":"#1a1a1a"},{"offset":0.8062,"color":"#0000"},
{"offset":0.81,"color":"#0000"},{"offset":0.81,"color":"#1a1a1a"},{"offset":0.8112,"color":"#1a1a1a"},{"offset":0.8112,"color":"#0000"},
{"offset":0.815,"color":"#0000"},{"offset":0.815,"color":"#1a1a1a"},{"offset":0.8162,"color":"#1a1a1a"},{"offset":0.8162,"color":"#0000"},
{"offset":0.82,"color":"#0000"},{"offset":0.82,"color":"#1a1a1a"},{"offset":0.8212,"color":"#1a1a1a"},{"offset":0.8212,"color":"#0000"},
{"offset":0.825,"color":"#0000"},{"offset":0.825,"color":"#1a1a1a"},{"offset":0.8262,"color":"#1a1a1a"},{"offset":0.8262,"color":"#0000"},
{"offset":0.83,"color":"#0000"},{"offset":0.83,"color":"#1a1a1a"},{"offset":0.8312,"color":"#1a1a1a"},{"offset":0.8312,"color":"#0000"},
{"offset":0.835,"color":"#0000"},{"offset":0.835,"color":"#1a1a1a"},{"offset":0.8362,"color":"#1a1a1a"},{"offset":0.8362,"color":"#0000"},
{"offset":0.84,"color":"#0000"},{"offset":0.84,"color":"#1a1a1a"},{"offset":0.8412,"color":"#1a1a1a"},{"offset":0.8412,"color":"#0000"},
{"offset":0.845,"color":"#0000"},{"offset":0.845,"color":"#1a1a1a"},{"offset":0.8462,"color":"#1a1a1a"},{"offset":0.8462,"color":"#0000"},
{"offset":0.85,"color":"#0000"},{"offset":0.85,"color":"#1a1a1a"},{"offset":0.8512,"color":"#1a1a1a"},{"offset":0.8512,"color":"#0000"},
{"offset":0.855,"color":"#0000"},{"offset":0.855,"color":"#1a1a1a"},{"offset":0.8562,"color":"#1a1a1a"},{"offset":0.8562,"color":"#0000"},
{"offset":0.86,"color":"#0000"},{"offset":0.86,"color":"#1a1a1a"},{"offset":0.8612,"color":"#1a1a1a"},{"offset":0.8612,"color":"#0000"},
{"offset":0.865,"color":"#0000"},{"offset":0.865,"color":"#1a1a1a"},{"offset":0.8662,"color":"#1a1a1a"},{"offset":0.8662,"color":"#0000"},
{"offset":0.87,"color":"#0000"},{"offset":0.87,"color":"#1a1a1a"},{"offset":0.8712,"color":"#1a1a1a"},{"offset":0.8712,"color":"#0000"},
{"offset":0.875,"color":"#0000"},{"offset":0.875,"color":"#1a1a1a"},{"offset":0.8762,"color":"#1a1a1a"},{"offset":0.8762,"color":"#0000"},
{"offset":0.88,"color":"#0000"},{"offset":0.88,"color":"#1a1a1a"},{"offset":0.8812,"color":"#1a1a1a"},{"offset":0.8812,"color":"#0000"},
{"offset":0.885,"color":"#0000"},{"offset":0.885,"color":"#1a1a1a"},{"offset":0.8862,"color":"#1a1a1a"},{"offset":0.8862,"color":"#0000"},
{"offset":0.89,"color":"#0000"},{"offset":0.89,"color":"#1a1a1a"},{"offset":0.8912,"color":"#1a1a1a"},{"offset":0.8912,"color":"#0000"},
{"offset":0.895,"color":"#0000"},{"offset":0.895,"color":"#1a1a1a"},{"offset":0.8962,"color":"#1a1a1a"},{"offset":0.8962,"color":"#0000"},
{"offset":0.9,"color":"#0000"},{"offset":0.9,"color":"#1a1a1a"},{"offset":0.9012,"color":"#1a1a1a"},{"offset":0.9012,"color":"#0000"},
{"offset":0.905,"color":"#0000"},{"offset":0.905,"color":"#1a1a1a"},{"offset":0.9062,"color":"#1a1a1a"},{"offset":0.9062,"color":"#0000"},
{"offset":0.91,"color":"#0000"},{"offset":0.91,"color":"#1a1a1a"},{"offset":0.9112,"color":"#1a1a1a"},{"offset":0.9112,"color":"#0000"},
{"offset":0.915,"color":"#0000"},{"offset":0.915,"color":"#1a1a1a"},{"offset":0.9162,"color":"#1a1a1a"},{"offset":0.9162,"color":"#0000"},
{"offset":0.92,"color":"#0000"},{"offset":0.92,"color":"#1a1a1a"},{"offset":0.9212,"color":"#1a1a1a"},{"offset":0.9212,"color":"#0000"},
{"offset":0.925,"color":"#0000"},{"offset":0.925,"color":"#1a1a1a"},{"offset":0.9262,"color":"#1a1a1a"},{"offset":0.9262,"color":"#0000"},
{"offset":0.93,"color":"#0000"},{"offset":0.93,"color":"#1a1a1a"},{"offset":0.9312,"color":"#1a1a1a"},{"offset":0.9312,"color":"#0000"},
{"offset":0.935,"color":"#0000"},{"offset":0.935,"color":"#1a1a1a"},{"offset":0.9362,"color":"#1a1a1a"},{"offset":0.9362,"color":"#0000"},
{"offset":0.94,"color":"#0000"},{"offset":0.94,"color":"#1a1a1a"},{"offset":0.9412,"color":"#1a1a1a"},{"offset":0.9412,"color":"#0000"},
{"offset":0.945,"color":"#0000"},{"offset":0.945,"color":"#1a1a1a"},{"offset":0.9462,"color":"#1a1a1a"},{"offset":0.9462,"color":"#0000"},
{"offset":0.95,"color":"#0000"},{"offset":0.95,"color":"#1a1a1a"},{"offset":0.9512,"color":"#1a1a1a"},{"offset":0.9512,"color":"#0000"},
{"offset":0.955,"color":"#0000"},{"offset":0.955,"color":"#1a1a1a"},{"offset":0.9562,"color":"#1a1a1a"},{"offset":0.9562,"color":"#0000"},
{"offset":0.96,"color":"#0000"},{"offset":0.96,"color":"#1a1a1a"},{"offset":0.9612,"color":"#1a1a1a"},{"offset":0.9612,"color":"#0000"},
{"offset":0.965,"color":"#0000"},{"offset":0.965,"color":"#1a1a1a"},{"offset":0.9662,"color":"#1a1a1a"},{"offset":0.9662,"color":"#0000"},
{"offset":0.97,"color":"#0000"},{"offset":0.97,"color":"#1a1a1a"},{"offset":0.9712,"color":"#1a1a1a"},{"offset":0.9712,"color":"#0000"},
{"offset":0.975,"color":"#0000"},{"offset":0.975,"color":"#1a1a1a"},{"offset":0.9762,"color":"#1a1a1a"},{"offset":0.9762,"color":"#0000"},
{"offset":0.98,"color":"#0000"},{"offset":0.98,"color":"#1a1a1a"},{"offset":0.9812,"color":"#1a1a1a"},{"offset":0.9812,"color":"#0000"},
{"offset":0.985,"color":"#0000"},{"offset":0.985,"color":"#1a1a1a"},{"offset":0.9862,"color":"#1a1a1a"},{"offset":0.9862,"color":"#0000"},
{"offset":0.99,"color":"#0000"},{"offset":0.99,"color":"#1a1a1a"},{"offset":0.9912,"color":"#1a1a1a"},{"offset":0.9912,"color":"#0000"},
{"offset":0.995,"color":"#0000"},{"offset":0.995,"color":"#1a1a1a"},{"offset":0.9962,"color":"#1a1a1a"},{"offset":0.9962,"color":"#0000"},
{"offset":1,"color":"#0000"}
        ]}
      },
      "encoding": {
        "x": {"field": "wl", "type": "quantitative", "scale": {"domain": [200, 2300], "nice": false, "zero": false}},
        "y": {"field": "p", "type": "quantitative", "scale": {"domain": [0, 70], "nice": false, "zero": false}},
        "y2": {"field": "o"}
      }
    },
    {
      "data": {"name": "spec"},
      "transform": [{"fold": ["p", "o"], "as": ["series", "value"]}],
      "mark": {"type": "line", "strokeWidth": 4, "strokeJoin": "round", "strokeCap": "round"},
      "encoding": {
        "x": {
          "field": "wl", "type": "quantitative",
          "scale": {"domain": [200, 2300], "nice": false, "zero": false},
          "axis": {
            "values": [200, 400, 700, 1000, 1300, 1600, 2000, 2300], "format": "d",
            "grid": false, "ticks": false, "domain": false,
            "labelFontSize": 19, "labelColor": "#231f20", "labelPadding": 9,
            "labelFlush": false, "labelOverlap": false, "labelBound": false,
            "title": "Wavelength (nm)", "titleFontSize": 24, "titleFontWeight": "normal", "titleColor": "#231f20",
            "titleAnchor": "end", "titleAlign": "right", "titleBaseline": "alphabetic", "titleX": 1022, "titleY": 52
          }
        },
        "y": {
          "field": "value", "type": "quantitative",
          "scale": {"domain": [0, 70], "nice": false, "zero": false},
          "axis": {
            "values": [0, 20, 40, 60], "format": "d",
            "grid": false, "ticks": false, "domain": false,
            "labelFontSize": 19, "labelColor": "#231f20", "labelPadding": 9,
            "labelFlush": false, "labelOverlap": false, "labelBound": false,
            "title": "%T", "titleFontSize": 24, "titleFontWeight": "normal", "titleColor": "#231f20",
            "titleAngle": -90, "titleAlign": "right", "titleBaseline": "bottom", "titleX": -42, "titleY": 6
          }
        },
        "color": {
          "field": "series", "type": "nominal",
          "scale": {"domain": ["p", "o"], "range": ["#ed1c24", "#3ec3f0"]},
          "legend": {
            "orient": "none", "legendX": -66, "legendY": 370, "direction": "horizontal",
            "title": null, "symbolType": "stroke", "symbolStrokeWidth": 5, "symbolSize": 400,
            "labelFontSize": 15, "labelColor": "#231f20", "labelOffset": 4, "columnPadding": 11, "labelLimit": 400,
            "labelExpr": "datum.value == 'p' ? 'PolyShade 18% light transmission' : 'Opal Ice 18% light transmission'"
          }
        }
      }
    },
    {
      "data": {"name": "labels"},
      "transform": [{"filter": "datum.kind == 'head'"}],
      "mark": {"type": "text", "align": "left", "baseline": "alphabetic", "fontSize": 25, "fontWeight": "bold", "color": "#231f20"},
      "encoding": {
        "x": {"field": "wl", "type": "quantitative", "scale": {"domain": [200, 2300], "nice": false, "zero": false}},
        "y": {"field": "t", "type": "quantitative", "scale": {"domain": [0, 70], "nice": false, "zero": false}},
        "text": {"field": "text"}
      }
    },
    {
      "data": {"name": "labels"},
      "transform": [{"filter": "datum.kind == 'note'"}],
      "mark": {"type": "text", "align": "left", "baseline": "alphabetic", "fontSize": 20.5, "color": "#231f20"},
      "encoding": {
        "x": {"field": "wl", "type": "quantitative", "scale": {"domain": [200, 2300], "nice": false, "zero": false}},
        "y": {"field": "t", "type": "quantitative", "scale": {"domain": [0, 70], "nice": false, "zero": false}},
        "text": {"field": "text"}
      }
    },
    {
      "data": {"name": "bands"},
      "transform": [{"filter": "datum.band == 'frame'"}],
      "mark": {"type": "rect", "fill": "#ffffff", "fillOpacity": 0, "stroke": "#3c3c3c", "strokeWidth": 2, "cornerRadius": 16},
      "encoding": {
        "x": {"field": "start", "type": "quantitative", "scale": {"domain": [200, 2300], "nice": false, "zero": false}},
        "x2": {"field": "end"}
      }
    }
  ]
}
